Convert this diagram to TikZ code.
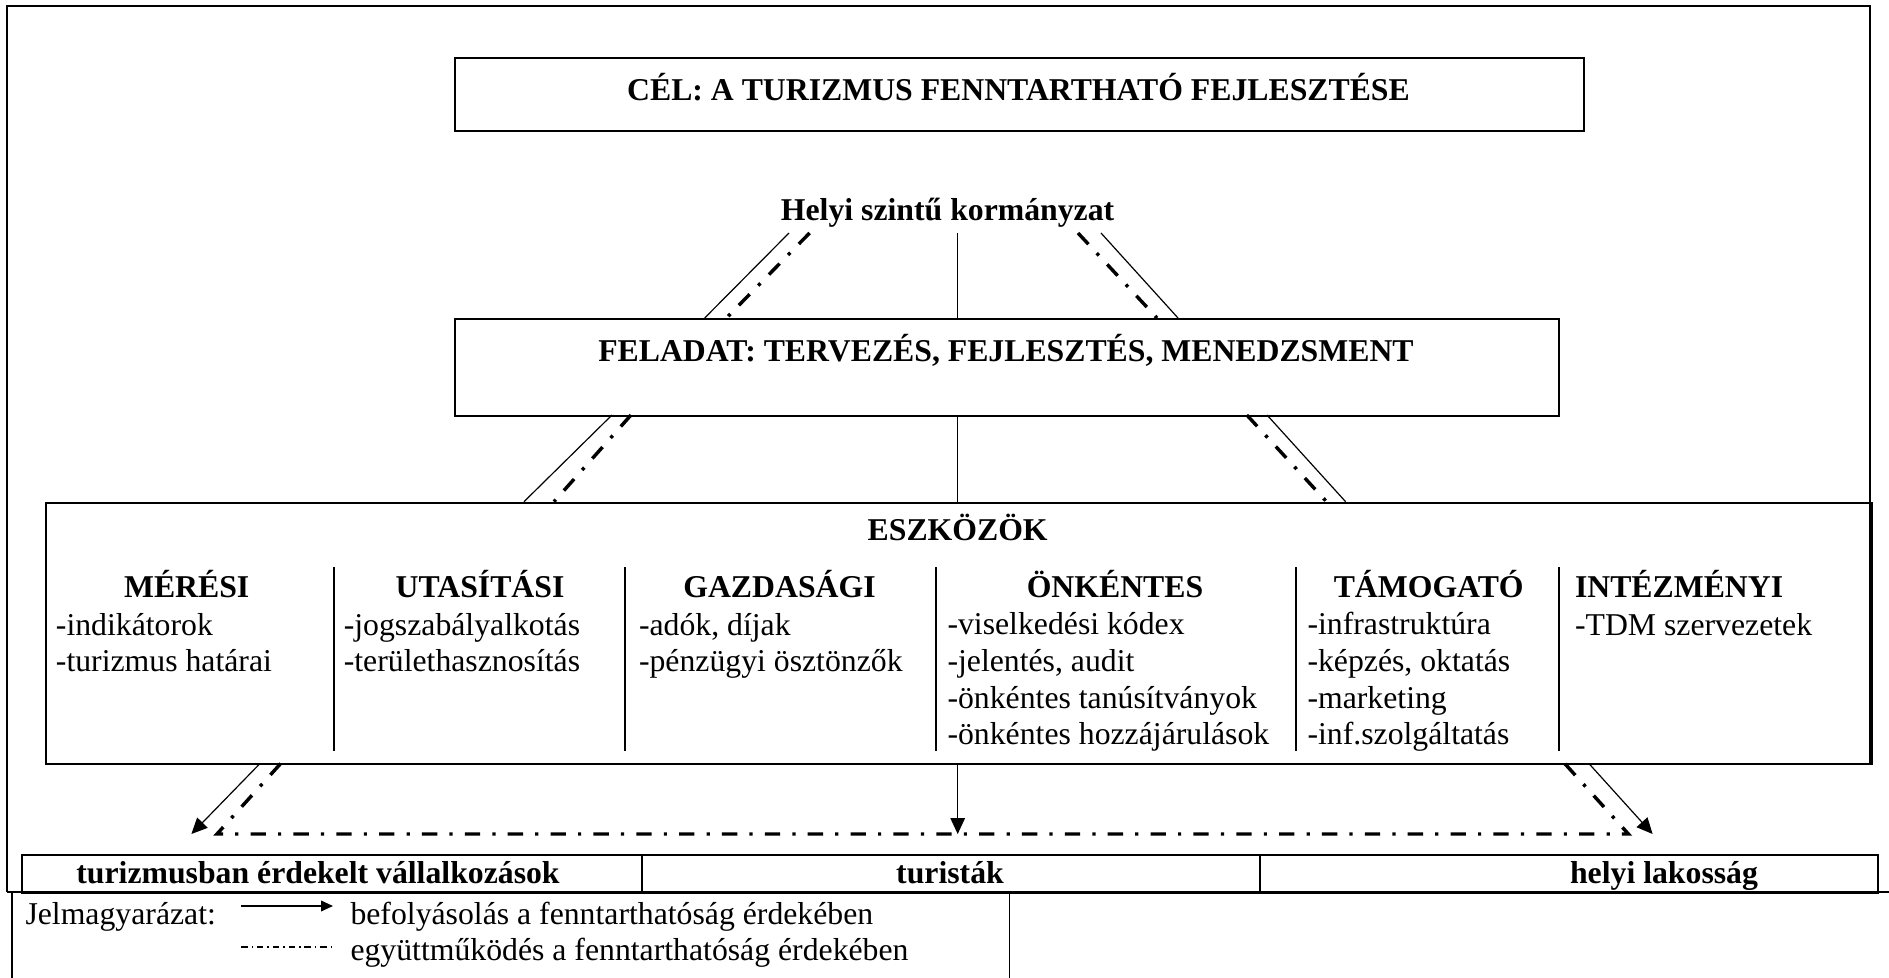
\documentclass[tikz,border=0pt]{standalone}
\usepackage{fontspec}
\setmainfont{Liberation Serif}
\usetikzlibrary{arrows.meta}

\tikzset{
  box/.style={draw, line width=0.75pt, inner sep=0pt, anchor=north west},
  head/.style={font=\fontsize{12pt}{13.8pt}\selectfont\bfseries, anchor=base, inner sep=0pt},
  item/.style={align=left, anchor=base west, inner sep=0pt},
  conn/.style={line width=0.45pt},
  coop/.style={line width=1.3pt, dash pattern=on 5.8pt off 4.6pt on 1.2pt off 4.6pt},
  infl/.style={line width=0.45pt, -{Triangle[length=6pt,width=5.5pt]}},
  sep/.style={line width=0.75pt},
}

\begin{document}
\begin{tikzpicture}[x=0.378pt, y=-0.378pt, font=\fontsize{12pt}{13.8pt}\selectfont]
\useasboundingbox (0,0) rectangle (1889,978);

% keret
\draw[line width=0.8pt] (1870,763) -- (1870,6) -- (6.7,6) -- (6.7,892);
\draw[line width=0.9pt] (6.7,892) -- (1889,892);

\node[box, minimum width=426.8pt, minimum height=27.6pt] (celbox) at (454,57) {};
\node[head] (cel) at (1018.5,100.5) {CÉL: A TURIZMUS FENNTARTHATÓ FEJLESZTÉSE};

\node[head] (helyi) at (947.6,220) {Helyi szintű kormányzat};

\node[box, minimum width=417.2pt, minimum height=36.6pt] (feladatbox) at (454,318) {};
\node[head] (feladat) at (1006,361.5) {FELADAT: TERVEZÉS, FEJLESZTÉS, MENEDZSMENT};

\node[box, minimum width=690.4pt, minimum height=98.9pt] (eszkbox) at (44.6,501.7) {};
\node[head] (eszk) at (957.7,540) {ESZKÖZÖK};

\foreach \x in {333.7,625.2,936,1296.2,1558.9}
  \draw[sep] (\x,567) -- (\x,750.7);

\node[head] (meresi) at (186.7,597) {MÉRÉSI};
\node[head] (utasitasi) at (480,597) {UTASÍTÁSI};
\node[head] (gazdasagi) at (779.5,597) {GAZDASÁGI};
\node[head] (onkentes) at (1115,597) {ÖNKÉNTES};
\node[head] (tamogato) at (1428.7,597) {TÁMOGATÓ};
\node[head, anchor=base west] (intezmenyi) at (1574.5,597) {INTÉZMÉNYI};

% a node base pontja az utolsó sor alapvonala
\node[item] (meresiL) at (55.4,671.5) {-indikátorok\\-turizmus határai};
\node[item] (utasitasiL) at (343.3,671.5) {-jogszabályalkotás\\-területhasznosítás};
\node[item] (gazdasagiL) at (638.5,671.5) {-adók, díjak\\-pénzügyi ösztönzők};
\node[item] (onkentesL) at (947,744.5) {-viselkedési kódex\\-jelentés, audit\\-önkéntes tanúsítványok\\-önkéntes hozzájárulások};
\node[item] (tamogatoL) at (1307,744.5) {-infrastruktúra\\-képzés, oktatás\\-marketing\\-inf.szolgáltatás};
\node[item] (intezmenyiL) at (1574.5,635) {-TDM szervezetek};

% alsó sor
\node[box, minimum width=234.4pt, minimum height=14.4pt] (vallbox) at (20.7,854) {};
\node[box, minimum width=233.6pt, minimum height=14.4pt] (turbox) at (640.7,854) {};
\node[box, minimum width=233.7pt, minimum height=14.4pt] (lakbox) at (1258.7,854) {};
\node[head] (vall) at (318,883) {turizmusban érdekelt vállalkozások};
\node[head] (tur) at (950,883) {turisták};
\node[head] (lak) at (1664,883) {helyi lakosság};

% kapcsolatok
\coordinate (hL1) at (789,233);    \coordinate (fL1) at (704.7,318);
\coordinate (hL2) at (809.6,233);  \coordinate (fL2) at (726.4,318);
\coordinate (hC) at (957.7,233);   \coordinate (fC) at (957.7,318);
\coordinate (hR2) at (1078,233);   \coordinate (fR2) at (1157,318);
\coordinate (hR1) at (1101,233);   \coordinate (fR1) at (1178,318);
\draw[conn] (hL1) -- (fL1);
\draw[coop] (hL2) -- (fL2);
\draw[conn] (hC) -- (fC);
\draw[coop] (hR2) -- (fR2);
\draw[conn] (hR1) -- (fR1);

\coordinate (gL1) at (612,415);    \coordinate (eL1) at (524,501.7);
\coordinate (gL2) at (631,415);    \coordinate (eL2) at (554,501.7);
\coordinate (gC) at (957.7,415);   \coordinate (eC) at (957.7,501.7);
\coordinate (gR2) at (1246.8,415); \coordinate (eR2) at (1326.6,501.7);
\coordinate (gR1) at (1267,415);   \coordinate (eR1) at (1345.6,501.7);
\draw[conn] (gL1) -- (eL1);
\draw[coop] (gL2) -- (eL2);
\draw[conn] (gC) -- (eC);
\draw[coop] (gR2) -- (eR2);
\draw[conn] (gR1) -- (eR1);

\coordinate (sL1) at (260,763.5);    \coordinate (tL1) at (191.4,834);
\coordinate (sL2) at (280.7,763.5);  \coordinate (tL2) at (217,834);
\coordinate (sC) at (957.7,763.5);   \coordinate (tC) at (957.7,834);
\coordinate (sR2) at (1564.7,763.5); \coordinate (tR2) at (1628.4,834);
\coordinate (sR1) at (1588.9,763.5); \coordinate (tR1) at (1652.6,834);
\draw[infl] (sL1) -- (tL1);
\draw[coop] (sL2) -- (tL2) -- (tR2) -- (sR2);
\draw[infl] (sC) -- (tC);
\draw[infl] (sR1) -- (tR1);

% jelmagyarázat
\draw[sep] (11.7,892) -- (11.7,978);
\draw[sep] (1009.5,892) -- (1009.5,978);
\node[anchor=base west, inner sep=0pt] (jelm) at (25,924) {Jelmagyarázat:};
\coordinate (j1a) at (241,906); \coordinate (j1b) at (333,906);
\draw[line width=0.6pt, -{Triangle[length=4.5pt,width=4pt]}] (j1a) -- (j1b);
\node[anchor=base west, inner sep=0pt] (jbef) at (350,924) {befolyásolás a fenntarthatóság érdekében};
\coordinate (j2a) at (241,947); \coordinate (j2b) at (333,947);
\draw[line width=0.4pt, dash pattern=on 2.5pt off 1.5pt on 0.5pt off 1.5pt] (j2a) -- (j2b);
\node[anchor=base west, inner sep=0pt] (jegy) at (350,960) {együttműködés a fenntarthatóság érdekében};

\end{tikzpicture}
\end{document}
